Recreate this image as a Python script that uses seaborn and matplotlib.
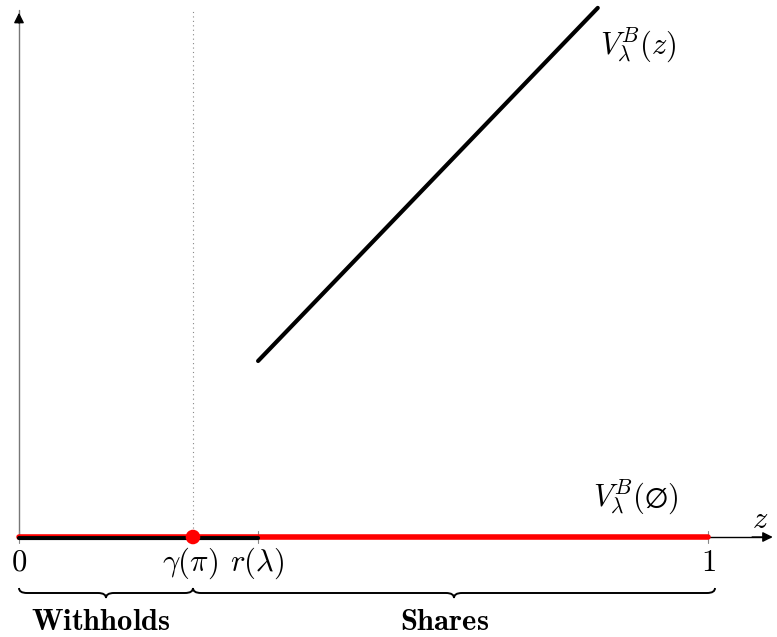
import numpy as np
import pandas as pd
import matplotlib
matplotlib.use("Agg")
import matplotlib.pyplot as plt
from matplotlib.path import Path
from matplotlib.patches import PathPatch
import seaborn as sns

sns.set_theme(style="white")
plt.rcParams["mathtext.fontset"] = "cm"
plt.rcParams["font.family"] = ["serif"]
plt.rcParams["font.serif"] = ["cmr10", "DejaVu Serif"]
plt.rcParams["text.color"] = "black"
plt.rcParams["axes.formatter.use_mathtext"] = True

# key points on the z axis
gamma_pi = 0.2525
r_lambda = 0.347
tick_pos = [0.0, gamma_pi, r_lambda, 1.0]
tick_labels = [r"$0$", r"$\gamma(\pi)$", r"$r(\lambda)$", r"$1$"]

# value of sharing, V_lambda^B(z), for z >= r(lambda)
share_z = [r_lambda, 0.840]
share_v = [0.334, 1.004]

# value of withholding, V_lambda^B(empty)
withhold_z = [0.0, 1.0]
withhold_v = [0.0, 0.0]
low_z = [0.0, r_lambda]
low_v = [0.0, 0.0]

fig = plt.figure(figsize=(7.77, 6.37), dpi=100)
ax = fig.add_axes([0, 0, 1, 1])
ax.set_xlim(-19 / 689, 758 / 689)
ax.set_ylim(-100 / 527, 537 / 527)
ax.axis("off")

# axes with arrow heads
ax.plot([0, 0], [0, 1.0], color="#777777", lw=1.0, zorder=1)
ax.plot([0, 1.09], [0, 0], color="black", lw=1.0, zorder=1)
ax.annotate("", xy=(0, 1.0), xytext=(0, 0.97),
            arrowprops=dict(arrowstyle="-|>,head_length=0.5,head_width=0.25",
                            color="black", lw=1.0))
ax.annotate("", xy=(1.098, 0), xytext=(1.06, 0),
            arrowprops=dict(arrowstyle="-|>,head_length=0.5,head_width=0.25",
                            color="black", lw=1.0))

# dotted guide at gamma(pi)
ax.plot([gamma_pi, gamma_pi], [0, 1.0], color="#888888", lw=0.8,
        linestyle=(0, (1, 3)), zorder=1)

# lines
sns.lineplot(x=withhold_z, y=withhold_v, ax=ax, color="red", lw=4, zorder=3)
sns.lineplot(x=low_z, y=[v - 0.001 for v in low_v], ax=ax, color="black",
             lw=3, zorder=4)
sns.lineplot(x=share_z, y=share_v, ax=ax, color="black", lw=3, zorder=4)
ax.plot(low_z, [0.0035, 0.0035], color="red", lw=0.8, zorder=5)
sns.scatterplot(x=[gamma_pi], y=[0.0], ax=ax, color="red", s=110,
                edgecolor="none", zorder=6)

# tick marks and labels
for pos in tick_pos:
    ax.plot([pos, pos], [-0.012, 0.012], color="#888888", lw=0.8, zorder=2)
dy = 26 / 527
fs = 22
ax.text(0.0, -dy, tick_labels[0], ha="center", va="center", fontsize=fs)
ax.text(gamma_pi - 0.004, -dy, tick_labels[1], ha="center", va="center", fontsize=fs)
ax.text(r_lambda - 0.002, -dy, tick_labels[2], ha="center", va="center", fontsize=fs)
ax.text(1.0, -dy, tick_labels[3], ha="center", va="center", fontsize=fs)

# curve labels
ax.text((638 - 19) / 689, (537 - 45) / 527, r"$V_{\lambda}^{B}(z)$",
        ha="center", va="center", fontsize=fs)
ax.text((636 - 19) / 689, (537 - 497) / 527, r"$V_{\lambda}^{B}(\varnothing)$",
        ha="center", va="center", fontsize=fs)
ax.text((760 - 19) / 689, (537 - 520) / 527, r"$z$",
        ha="center", va="center", fontsize=fs)


def brace(x0, x1, y, h_end, h_tip, w):
    """Horizontal curly brace opening upward, tip pointing down."""
    xm = (x0 + x1) / 2
    verts = [
        (x0, y + h_end), (x0, y), (x0 + w, y),
        (xm - w, y),
        (xm, y), (xm, y - h_tip),
        (xm, y), (xm + w, y),
        (x1 - w, y),
        (x1, y), (x1, y + h_end),
    ]
    codes = [Path.MOVETO, Path.CURVE3, Path.CURVE3,
             Path.LINETO,
             Path.CURVE3, Path.CURVE3,
             Path.CURVE3, Path.CURVE3,
             Path.LINETO,
             Path.CURVE3, Path.CURVE3]
    ax.add_patch(PathPatch(Path(verts, codes), fill=False, lw=1.4,
                           edgecolor="black", zorder=3))


by = (537 - 593) / 527
brace(0.0, gamma_pi, by, 5 / 527, 5 / 527, 8 / 689)
brace(gamma_pi, (715 - 19) / 689, by, 5 / 527, 5 / 527, 8 / 689)

ty = (537 - 622) / 527
ax.text((101 - 19) / 689, ty, r"$\mathbf{Withholds}$", ha="center",
        va="center", fontsize=fs)
ax.text((445 - 19) / 689, ty, r"$\mathbf{Shares}$", ha="center",
        va="center", fontsize=fs)

fig.savefig("out.png", dpi=100)
